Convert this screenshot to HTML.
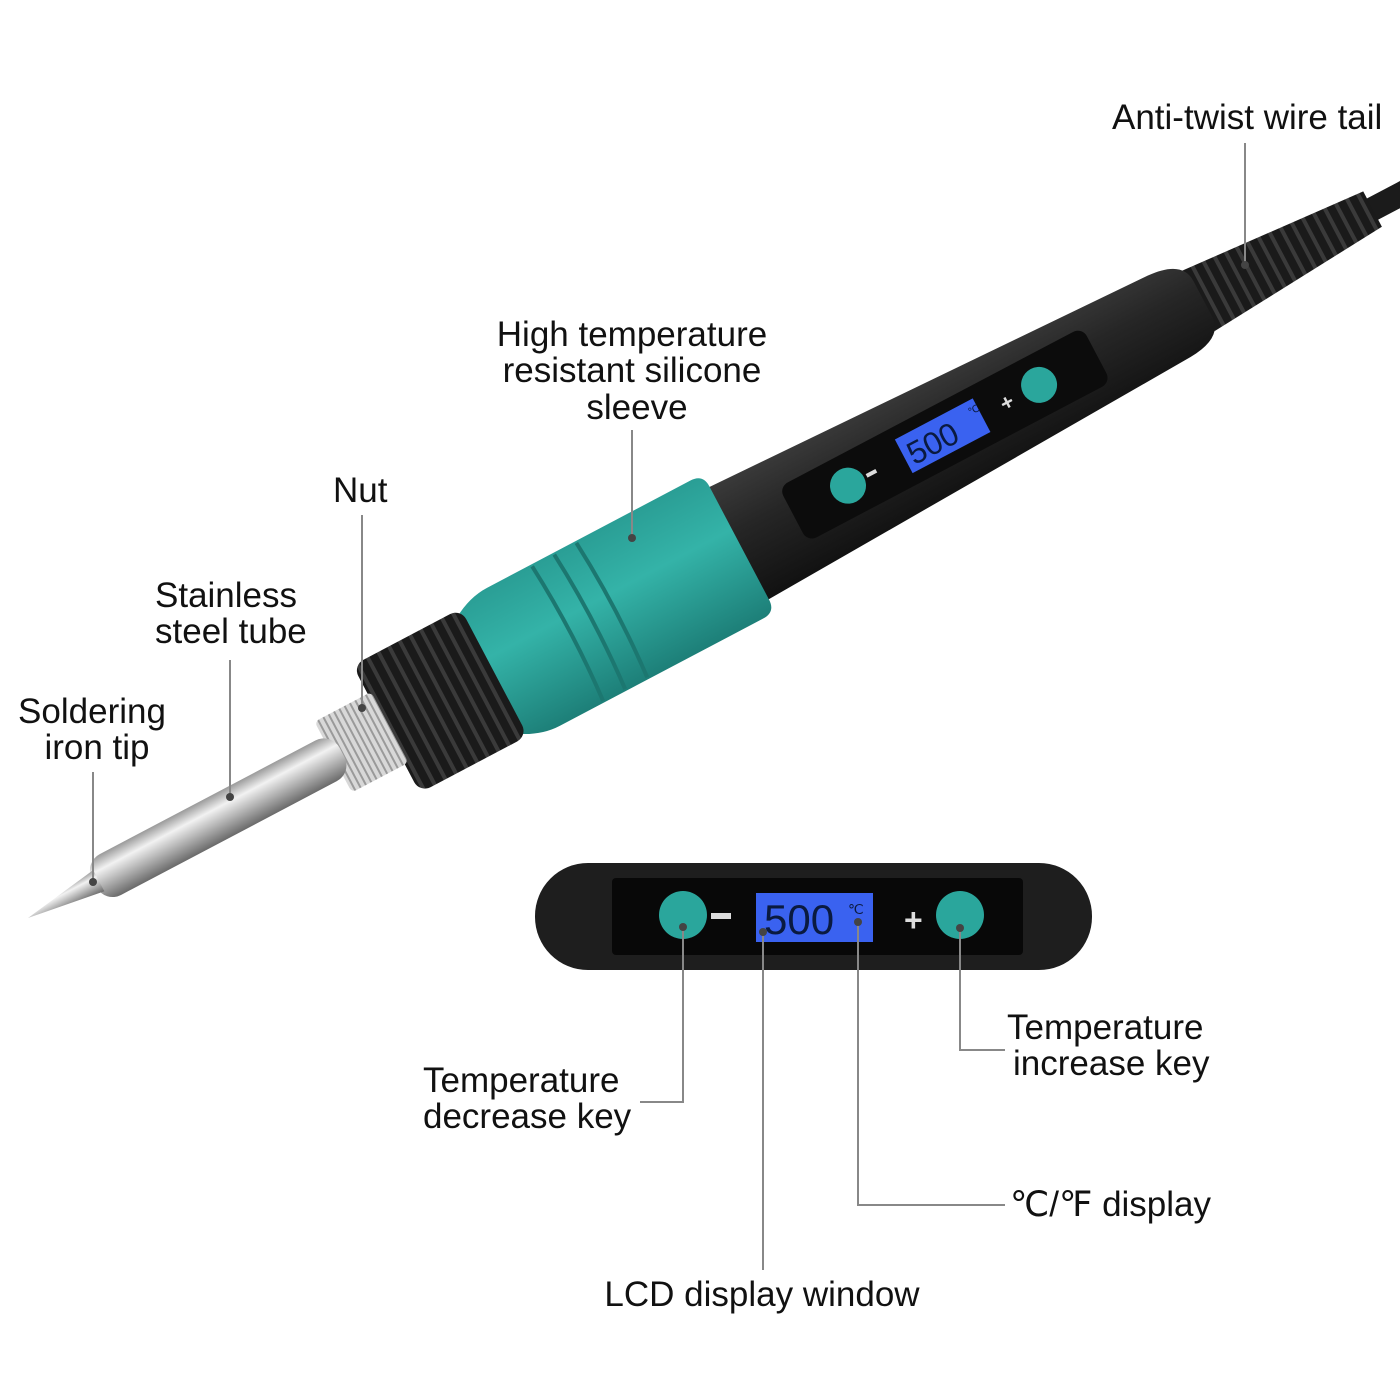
<!DOCTYPE html>
<html><head><meta charset="utf-8"><style>
html,body{margin:0;padding:0;background:#fff;}
svg{display:block;}
text{font-family:"Liberation Sans",sans-serif;font-size:35px;fill:#111;}
</style></head><body>
<svg width="1400" height="1400" viewBox="0 0 1400 1400" xmlns="http://www.w3.org/2000/svg">
<defs>
<linearGradient id="silver" x1="0" y1="0" x2="0" y2="1">
<stop offset="0" stop-color="#9a9a9a"/><stop offset="0.3" stop-color="#f2f2f2"/><stop offset="0.6" stop-color="#b8b8b8"/><stop offset="1" stop-color="#6a6a6a"/>
</linearGradient>
<linearGradient id="teal" x1="0" y1="0" x2="0" y2="1">
<stop offset="0" stop-color="#2a9e95"/><stop offset="0.4" stop-color="#34b3a8"/><stop offset="1" stop-color="#1d7f78"/>
</linearGradient>
<linearGradient id="blk" x1="0" y1="0" x2="0" y2="1">
<stop offset="0" stop-color="#3a3a3a"/><stop offset="0.4" stop-color="#262626"/><stop offset="1" stop-color="#111"/>
</linearGradient>
<pattern id="knurl" width="6" height="10" patternUnits="userSpaceOnUse">
<rect width="6" height="10" fill="#d8d8d8"/><rect width="2" height="10" fill="#9a9a9a"/>
</pattern>
<pattern id="rib" width="12" height="10" patternUnits="userSpaceOnUse">
<rect width="12" height="10" fill="#1a1a1a"/><rect width="4" height="10" fill="#3a3a3a"/>
</pattern>
</defs>

<g transform="translate(28,918) rotate(-27.8)">
  <rect x="1500" y="-12" width="260" height="24" fill="#1b1b1b"/>
  <path d="M1300,-36 L1520,-20 L1520,20 L1300,36 Z" fill="url(#rib)"/>
  <path d="M790,-64 L1290,-46 Q1328,-44 1328,-20 L1328,20 Q1328,44 1290,46 L790,64 Z" fill="url(#blk)"/>
  <rect x="865" y="-31" width="343" height="62" rx="10" fill="#0c0c0c"/>
  <circle cx="927" cy="0" r="18" fill="#2aa69c"/>
  <rect x="948" y="-2" width="11" height="4" fill="#ddd"/>
  <rect x="990" y="-19" width="88" height="38" fill="#3a62f0"/>
  <text x="995" y="13" style="font-size:32px;fill:#0a1a40">500</text>
  <text x="1068" y="-5" style="font-size:10px;fill:#0a1a40">℃</text>
  <text x="1100" y="8" style="font-size:22px;fill:#ddd;font-weight:bold">+</text>
  <circle cx="1143" cy="0" r="18" fill="#2aa69c"/>
  <path d="M520,-66 Q540,-78 560,-78 L790,-78 Q804,-78 804,-64 L804,64 Q804,78 790,78 L560,78 Q540,78 520,66 Z" fill="url(#teal)"/>
  <g stroke="#1c7770" stroke-width="4" fill="none">
    <path d="M610,-76 Q616,0 610,76"/><path d="M635,-76 Q641,0 635,76"/><path d="M660,-76 Q666,0 660,76"/>
  </g>
  <rect x="405" y="-72" width="122" height="144" rx="12" fill="url(#rib)"/>
  <rect x="345" y="-40" width="64" height="80" rx="5" fill="url(#knurl)"/>
  <rect x="75" y="-23" width="280" height="46" rx="18" fill="url(#silver)"/>
  <path d="M0,0 L80,-12 L80,12 Z" fill="url(#silver)"/>
</g>

<rect x="535" y="863" width="557" height="107" rx="53" fill="#1e1e1e"/>
<rect x="612" y="878" width="411" height="77" rx="4" fill="#080808"/>
<circle cx="683" cy="915" r="24" fill="#2aa69c"/>
<rect x="711" y="913" width="20" height="6" fill="#ddd"/>
<rect x="756" y="893" width="117" height="49" fill="#3a62f0"/>
<text x="764" y="934" style="font-size:42px;fill:#0a1a40">500</text>
<text x="848" y="914" style="font-size:14px;fill:#0a1a40">℃</text>
<text x="904" y="931" style="font-size:32px;fill:#ddd;font-weight:bold">+</text>
<circle cx="960" cy="915" r="24" fill="#2aa69c"/>

<g stroke="#888" stroke-width="2" fill="none">
<path d="M1245,143 V265"/><path d="M632,430 V538"/><path d="M362,515 V708"/>
<path d="M230,660 V797"/><path d="M93,772 V882"/>
<path d="M683,927 V1102 H640"/><path d="M960,928 V1050 H1005"/>
<path d="M858,922 V1205 H1005"/><path d="M763,932 V1270"/>
</g>
<g fill="#444">
<circle cx="1245" cy="265" r="4"/><circle cx="632" cy="538" r="4"/><circle cx="362" cy="708" r="4"/>
<circle cx="230" cy="797" r="4"/><circle cx="93" cy="882" r="4"/><circle cx="683" cy="927" r="4"/>
<circle cx="960" cy="928" r="4"/><circle cx="858" cy="922" r="4"/><circle cx="763" cy="932" r="4"/>
</g>

<text x="1112" y="129">Anti-twist wire tail</text>
<text x="632" y="346" text-anchor="middle">High temperature</text>
<text x="632" y="382" text-anchor="middle">resistant silicone</text>
<text x="637" y="419" text-anchor="middle">sleeve</text>
<text x="333" y="502">Nut</text>
<text x="155" y="607">Stainless</text>
<text x="155" y="643">steel tube</text>
<text x="92" y="723" text-anchor="middle">Soldering</text>
<text x="97" y="759" text-anchor="middle">iron tip</text>
<text x="423" y="1092">Temperature</text>
<text x="423" y="1128">decrease key</text>
<text x="1007" y="1039">Temperature</text>
<text x="1013" y="1075">increase key</text>
<text x="1010" y="1216">℃/℉ display</text>
<text x="762" y="1306" text-anchor="middle">LCD display window</text>
</svg>
</body></html>
